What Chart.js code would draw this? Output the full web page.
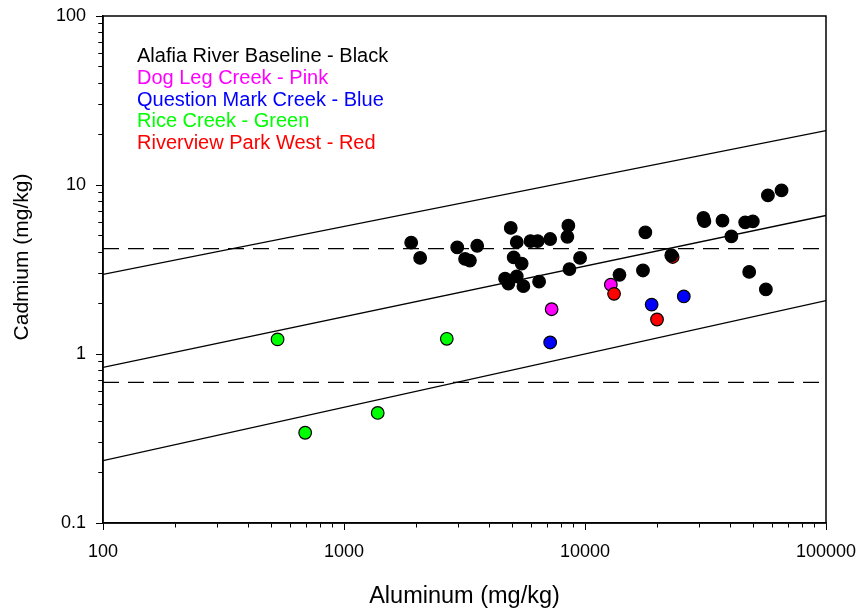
<!DOCTYPE html>
<html>
<head>
<meta charset="utf-8">
<script src="https://cdn.jsdelivr.net/npm/chart.js@4/dist/chart.umd.min.js"></script>
<style>
  html, body { margin: 0; padding: 0; background: #fff; }
  #wrap { width: 863px; height: 612px; }
</style>
</head>
<body>
<div id="wrap"><canvas id="chart" width="863" height="612"></canvas></div>
<script>
// Aluminum (mg/kg) vs Cadmium (mg/kg)
const alafiaAl = [1900, 2070, 2950, 3570, 3180, 3330, 4920, 5210, 5940, 6360, 7170, 8530, 8450, 5060, 5460, 9540, 8620, 4660, 5210, 4810, 5550, 6450, 13900, 17400, 17800, 22800, 31000, 31300, 37200, 46200, 49700, 40500, 57400, 65400, 48000, 56300];
const alafiaCd = [4.56, 3.70, 4.27, 4.37, 3.65, 3.57, 5.57, 4.59, 4.66, 4.66, 4.79, 5.74, 4.94, 3.73, 3.43, 3.70, 3.18, 2.79, 2.88, 2.61, 2.52, 2.68, 2.94, 3.12, 5.25, 3.84, 6.38, 6.11, 6.15, 6.01, 6.09, 4.97, 8.68, 9.29, 3.06, 2.41];

const dogLegAl = [12800, 7270];
const dogLegCd = [2.57, 1.84];

const questionMarkAl = [18900, 25700, 7170];
const questionMarkCd = [1.96, 2.19, 1.17];

const riceAl = [530, 690, 1380, 2670];
const riceCd = [1.22, 0.342, 0.448, 1.23];

const riverviewAl = [13200, 19900, 23100];
const riverviewCd = [2.27, 1.60, 3.75];

// regression line with bands, and the two reference levels (ends at x = 100 and 100000)
const lineAl = [100, 100000];
const upperBand = [2.96, 21.0];
const regression = [0.834, 6.6];
const lowerBand = [0.234, 2.07];
const upperLevel = [4.2, 4.2];
const lowerLevel = [0.68, 0.68];

// axes
const xDecades = [100, 1000, 10000, 100000];
const xDecadeLabels = ["100", "1000", "10000", "100000"];
const yDecades = [0.1, 1, 10, 100];
const yDecadeLabels = ["0.1", "1", "10", "100"];
const minorSteps = [2, 3, 4, 5, 6, 7, 8, 9];

const legendLines = [
  { text: "Alafia River Baseline - Black", color: "#000000" },
  { text: "Dog Leg Creek - Pink", color: "#ff00ff" },
  { text: "Question Mark Creek - Blue", color: "#0000ff" },
  { text: "Rice Creek - Green", color: "#00ff00" },
  { text: "Riverview Park West - Red", color: "#ff0000" },
];

const FONT = "'Liberation Sans', Arial, Helvetica, sans-serif";
const TICK_LEN = 7;
const MINOR_LEN = 4;
const AXIS_W = 1.5;

function pairs(xs, ys) {
  return xs.map((x, i) => ({ x, y: ys[i] }));
}

function logTicks(decades) {
  const out = [];
  decades.forEach((d, i) => {
    out.push({ value: d, major: true });
    if (i < decades.length - 1) minorSteps.forEach((m) => out.push({ value: d * m, major: false }));
  });
  return out;
}

function isDecade(v, decades) {
  return decades.some((d) => Math.abs(v / d - 1) < 1e-9);
}

function pointSet(label, xs, ys, color, order) {
  return {
    label,
    data: pairs(xs, ys),
    backgroundColor: color,
    borderColor: "#000",
    borderWidth: 1.2,
    pointRadius: 6.3,
    showLine: false,
    order,
  };
}

function lineSet(label, ys, dash) {
  return {
    label,
    data: pairs(lineAl, ys),
    showLine: true,
    borderColor: "#000",
    borderWidth: 1.3,
    borderDash: dash || [],
    pointRadius: 0,
    fill: false,
    order: 10,
  };
}

const chromePlugin = {
  id: "chrome",
  afterDraw(chart) {
    const { ctx, chartArea: a } = chart;
    ctx.save();
    ctx.strokeStyle = "#000";
    ctx.lineWidth = AXIS_W;
    ctx.strokeRect(a.left, a.top, a.right - a.left, a.bottom - a.top);

    // legend block
    ctx.font = "20px " + FONT;
    ctx.textAlign = "left";
    ctx.textBaseline = "alphabetic";
    legendLines.forEach((l, i) => {
      ctx.fillStyle = l.color;
      ctx.fillText(l.text, 137, 62 + i * 21.8);
    });

    // axis titles
    ctx.fillStyle = "#000";
    ctx.textAlign = "center";
    ctx.textBaseline = "middle";
    ctx.font = "23.5px " + FONT;
    ctx.fillText("Aluminum (mg/kg)", (a.left + a.right) / 2, 597);
    ctx.translate(22, 257);
    ctx.rotate(-Math.PI / 2);
    ctx.font = "21px " + FONT;
    ctx.fillText("Cadmium (mg/kg)", 0, 0);
    ctx.restore();
  },
};

Chart.defaults.font.family = FONT;
Chart.defaults.color = "#000";

new Chart(document.getElementById("chart"), {
  type: "scatter",
  data: {
    datasets: [
      pointSet("Alafia River Baseline", alafiaAl, alafiaCd, "#000000", 1),
      pointSet("Riverview Park West", riverviewAl, riverviewCd, "#ff0000", 2),
      pointSet("Dog Leg Creek", dogLegAl, dogLegCd, "#ff00ff", 3),
      pointSet("Question Mark Creek", questionMarkAl, questionMarkCd, "#0000ff", 4),
      pointSet("Rice Creek", riceAl, riceCd, "#00ff00", 5),
      lineSet("Upper band", upperBand),
      lineSet("Regression", regression),
      lineSet("Lower band", lowerBand),
      lineSet("Upper level", upperLevel, [16, 9]),
      lineSet("Lower level", lowerLevel, [16, 9]),
    ],
  },
  options: {
    responsive: false,
    animation: false,
    layout: { padding: { left: 0, top: 16, right: 37, bottom: 0 } },
    plugins: { legend: { display: false }, tooltip: { enabled: false } },
    scales: {
      x: {
        type: "logarithmic",
        position: "bottom",
        min: 100,
        max: 100000,
        afterBuildTicks: (s) => { s.ticks = logTicks(xDecades); },
        afterFit: (s) => {
          s.height = 89;
          s.paddingLeft = 0;
          s.paddingRight = 0;
        },
        border: { display: true, color: "#000", width: AXIS_W },
        grid: {
          drawOnChartArea: false,
          drawTicks: true,
          tickLength: TICK_LEN,
          tickColor: "#000",
          tickWidth: 1,
          tickBorderDash: (c) => (c.tick && isDecade(c.tick.value, xDecades) ? [] : [MINOR_LEN, 50]),
        },
        ticks: {
          autoSkip: false,
          maxRotation: 0,
          padding: 11,
          color: "#000",
          font: { size: 18 },
          callback: (v) => {
            const i = xDecades.findIndex((d) => Math.abs(v / d - 1) < 1e-9);
            return i >= 0 ? xDecadeLabels[i] : "";
          },
        },
      },
      y: {
        type: "logarithmic",
        position: "left",
        min: 0.1,
        max: 100,
        afterBuildTicks: (s) => { s.ticks = logTicks(yDecades); },
        afterFit: (s) => {
          s.width = 103;
          s.paddingTop = 0;
          s.paddingBottom = 0;
        },
        border: { display: true, color: "#000", width: AXIS_W },
        grid: {
          drawOnChartArea: false,
          drawTicks: true,
          tickLength: TICK_LEN,
          tickColor: "#000",
          tickWidth: 1,
          // left ticks are stroked from the outer end towards the axis
          tickBorderDash: (c) => (c.tick && isDecade(c.tick.value, yDecades)
            ? []
            : [0, TICK_LEN - AXIS_W / 2 - MINOR_LEN, MINOR_LEN, 50]),
        },
        ticks: {
          autoSkip: false,
          padding: 10,
          color: "#000",
          font: { size: 18 },
          callback: (v) => {
            const i = yDecades.findIndex((d) => Math.abs(v / d - 1) < 1e-9);
            return i >= 0 ? yDecadeLabels[i] : "";
          },
        },
      },
    },
  },
  plugins: [chromePlugin],
});
</script>
</body>
</html>
